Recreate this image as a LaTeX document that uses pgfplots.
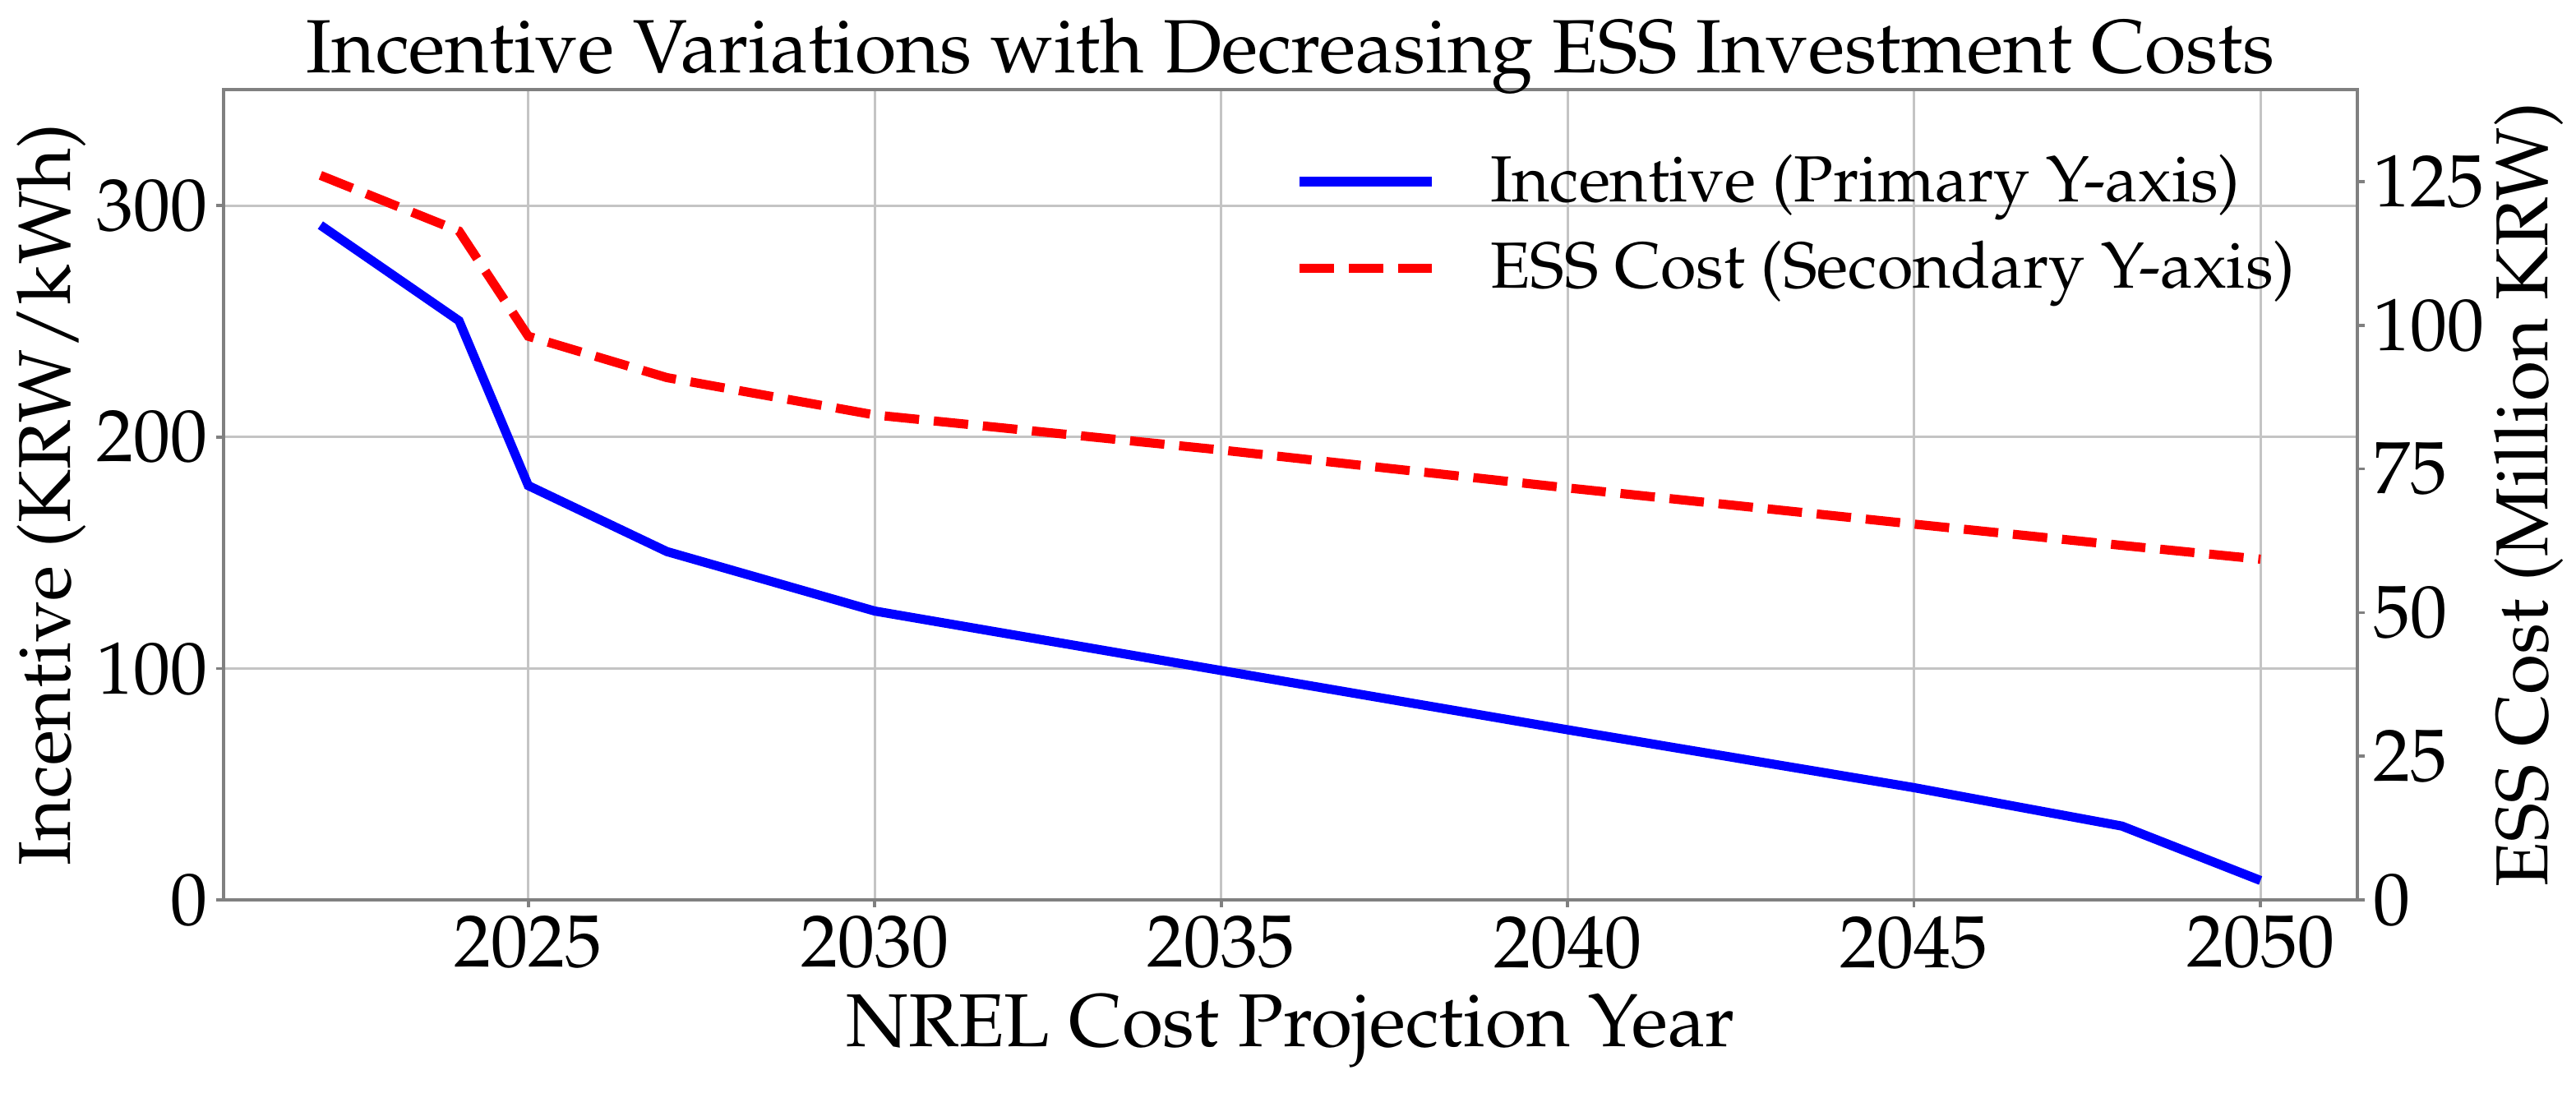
\documentclass[border=0pt]{standalone}
\usepackage[T1]{fontenc}
\usepackage{mathpazo}
\usepackage{pgfplots}
\usepackage{pgfplotstable}
\pgfplotsset{compat=1.18}

\definecolor{gridgray}{RGB}{196,196,196}
\definecolor{spinegray}{RGB}{128,128,128}

\pgfplotstableread{
year incentive
2022 291.5
2024 250.2
2025 179.0
2027 150.5
2030 124.8
2035 99.1
2040 73.5
2045 48.5
2048 31.9
2050 8.4
}\incentivedata

\pgfplotstableread{
year cost
2022 126.1
2024 116.4
2025 98.1
2027 90.9
2030 84.4
2035 78.3
2040 71.7
2045 65.4
2048 61.7
2050 59.3
}\costdata

\pgfplotsset{
  twin/.style={
    scale only axis,
    width=432.7pt, height=164.3pt,
    xmin=2020.6, xmax=2051.4,
    axis line style={spinegray, line width=0.6pt},
    tick style={spinegray, line width=0.6pt},
    major tick length=1.5pt,
    tick align=outside,
    tick label style={font=\fontsize{15}{15}\selectfont, inner sep=1.6pt},
    label style={font=\fontsize{15.2}{15.2}\selectfont},
    /pgf/number format/1000 sep={},
  },
}

\begin{document}
\begin{tikzpicture}
\path[use as bounding box] (-45.3pt,-39pt) rectangle (477pt,182.5pt);

\begin{axis}[
  twin,
  ymin=0, ymax=350,
  ytick={0,100,200,300},
  xtick={2025,2030,2035,2040,2045,2050},
  xtick pos=bottom,
  ytick pos=left,
  grid=major,
  grid style={gridgray, line width=0.5pt},
  title={Incentive Variations with Decreasing ESS Investment Costs},
  title style={font=\fontsize{15.3}{15.3}\selectfont, at={(axis description cs:0.5,1)}, anchor=base, yshift=-2.5pt},
  xlabel={NREL Cost Projection Year},
  xlabel style={at={(axis description cs:0.5,0)}, anchor=center, yshift=-26.6pt},
  ylabel={Incentive (KRW/kWh)},
  ylabel style={font=\fontsize{14.9}{14.9}\selectfont, at={(axis description cs:0,0.5)}, anchor=center, yshift=34.8pt},
]
\addplot[blue, line width=1.85pt] table[x=year, y=incentive] {\incentivedata};
\end{axis}

\begin{axis}[
  twin,
  axis x line=none,
  axis y line*=right,
  ymin=0, ymax=141,
  ytick={0,25,50,75,100,125},
  ylabel={ESS Cost (Million KRW)},
  ylabel style={font=\fontsize{14.9}{14.9}\selectfont, at={(axis description cs:1,0.5)}, anchor=center, yshift=-34.8pt},
  legend cell align=left,
  legend image code/.code={\draw[#1] (0pt,0pt) -- (26.7pt,0pt);},
  legend style={draw=none, fill=none, at={(axis description cs:1,1)}, anchor=north east,
    xshift=-12.5pt, yshift=-12.9pt, font=\fontsize{13.2}{13.2}\selectfont,
    inner sep=0pt, nodes={inner sep=0pt},
    row sep=6.5pt, /tikz/every odd column/.append style={column sep=11pt}},
]
\addlegendimage{blue, line width=1.85pt}
\addlegendentry{Incentive (Primary Y-axis)}
\addplot[red, line width=1.85pt, dash pattern=on 7pt off 3pt] table[x=year, y=cost] {\costdata};
\addlegendentry{ESS Cost (Secondary Y-axis)}
\end{axis}
\end{tikzpicture}
\end{document}
